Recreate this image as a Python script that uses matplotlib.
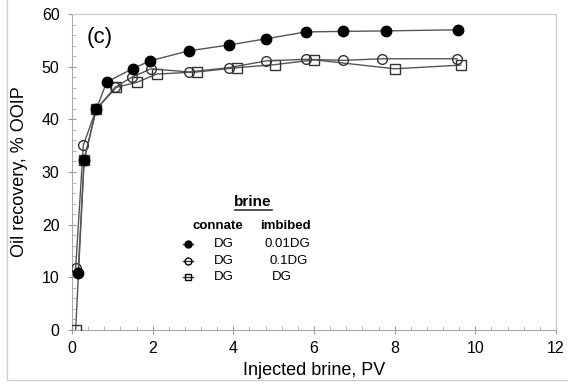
import matplotlib
matplotlib.use('Agg')
import matplotlib.pyplot as plt
from matplotlib.patches import Rectangle

plt.rcParams['font.family'] = ['Liberation Sans', 'DejaVu Sans']

# 0.01DG imbibed (filled circles)
x1 = [0.15, 0.3, 0.6, 0.86, 1.5, 1.93, 2.89, 3.88, 4.81, 5.8, 6.73, 7.78, 9.58]
y1 = [10.8, 32.3, 41.9, 47.1, 49.6, 51.1, 53.0, 54.1, 55.3, 56.6, 56.7, 56.8, 57.0]
# 0.1DG imbibed (open circles)
x2 = [0.09, 0.28, 0.6, 1.07, 1.48, 1.96, 2.89, 3.88, 4.81, 5.8, 6.73, 7.68, 9.55]
y2 = [11.7, 35.1, 41.9, 46.1, 48.0, 49.6, 49.0, 49.8, 51.1, 51.4, 51.2, 51.5, 51.5]
# DG imbibed (open squares)
x3 = [0.09, 0.3, 0.6, 1.1, 1.6, 2.1, 3.1, 4.08, 5.04, 6.01, 8.0, 9.64]
y3 = [0.0, 32.3, 41.9, 46.1, 47.0, 48.6, 49.0, 49.8, 50.4, 51.3, 49.6, 50.3]

connate = ['DG', 'DG', 'DG']
imbibed = ['0.01DG', '0.1DG', 'DG']

fig = plt.figure(figsize=(5.68, 3.84), dpi=100)
ax = fig.add_axes([0.1268, 0.1406, 0.8521, 0.8229])

# light border around the whole picture
fig.patches.append(Rectangle((7 / 568, 4 / 384), 1.0, 1.0, transform=fig.transFigure,
                             fill=False, edgecolor='#d0d0d0', linewidth=1))

ax.plot(x3, y3, color='#555555', lw=1, marker='s', ms=7, mfc='none', mec='#333333', mew=1, zorder=3)
ax.plot(x2, y2, color='#555555', lw=1, marker='o', ms=7, mfc='none', mec='#333333', mew=1, zorder=4)
ax.plot(x1, y1, color='#555555', lw=1, marker='o', ms=7.5, mfc='black', mec='black', zorder=5)

ax.set_xlim(0, 12)
ax.set_ylim(0, 60)
ax.set_xticks(range(0, 13, 2))
ax.set_yticks(range(0, 61, 10))
ax.set_xticks([i * 0.4 for i in range(31)], minor=True)
ax.set_yticks(range(0, 61, 2), minor=True)
ax.tick_params(which='major', direction='inout', length=6, color='#999999', labelsize=11.5)
ax.tick_params(axis='y', which='major', pad=6)
ax.tick_params(axis='x', which='major', pad=5)
ax.tick_params(which='minor', direction='in', length=3, color='#aaaaaa')
for s in ax.spines.values():
    s.set_color('#c8c8c8')
ax.spines['left'].set_color('#aaaaaa')
ax.spines['bottom'].set_color('#aaaaaa')

ax.set_xlabel('Injected brine, PV', fontsize=13, labelpad=4)
ax.set_ylabel('Oil recovery, % OOIP', fontsize=13, labelpad=10)

ax.text(0.058, 0.925, '(c)', transform=ax.transAxes, fontsize=16, ha='center', va='center')

# legend block
ax.text(0.374, 0.404, 'brine', transform=ax.transAxes, fontsize=11, fontweight='bold',
        ha='center', va='center')
ax.plot([0.337, 0.413], [0.381, 0.381], transform=ax.transAxes, color='#333333', lw=1.2)
ax.text(0.302, 0.329, 'connate', transform=ax.transAxes, fontsize=9.5, fontweight='bold',
        ha='center', va='center')
ax.text(0.44, 0.329, 'imbibed', transform=ax.transAxes, fontsize=9.5, fontweight='bold',
        ha='center', va='center')
styles = [('o', 'black'), ('o', 'none'), ('s', 'none')]
rows = [0.272, 0.218, 0.168]
imb_x = [0.444, 0.448, 0.434]
for (m, fc), c, im, ry, ix in zip(styles, connate, imbibed, rows, imb_x):
    ax.plot([0.229, 0.25], [ry, ry], transform=ax.transAxes, color='#333333', lw=1)
    ax.plot([0.2397], [ry], transform=ax.transAxes, marker=m, ms=5, mfc=fc, mec='black', mew=1)
    ax.text(0.314, ry, c, transform=ax.transAxes, fontsize=9.5, ha='center', va='center')
    ax.text(ix, ry, im, transform=ax.transAxes, fontsize=9.5, ha='center', va='center')

fig.savefig('out.png', dpi=100)
